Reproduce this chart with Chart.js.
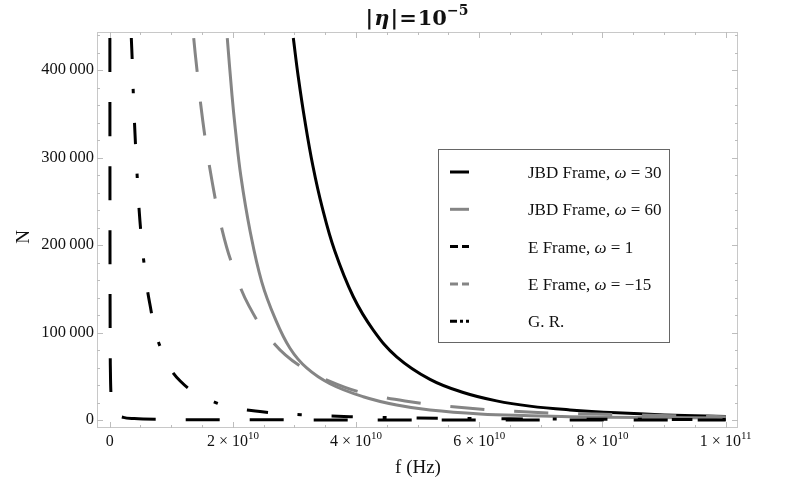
<!DOCTYPE html>
<html>
<head>
<meta charset="utf-8">
<script src="https://cdn.jsdelivr.net/npm/chart.js@4.4.0/dist/chart.umd.min.js"></script>
<style>
  html, body { margin: 0; background: #fff; }
  #wrap { width: 785px; height: 490px; }
</style>
</head>
<body>
<div id="wrap"><canvas id="chart"></canvas></div>
<script>
// frequencies are in units of 1e10 Hz, N is the cycle count

const F_JBD30 = [2.981, 3.06, 3.17, 3.30, 3.45, 3.65, 3.955, 4.279, 4.659, 5.2, 5.74, 6.28, 6.82, 7.47, 8.23, 9.0, 10.0]
const N_JBD30 = [436600, 393000, 341500, 290000, 243000, 194000, 140900, 102900, 72300, 46500, 31500, 21900, 15900, 11600, 8200, 5900, 4100]

const F_JBD60 = [1.909, 1.985, 2.039, 2.131, 2.282, 2.468, 2.683, 2.927, 3.198, 3.576, 4.117, 4.659, 5.2, 6.011, 6.823, 7.472, 8.7, 10.0]
const N_JBD60 = [436600, 371500, 333000, 278000, 215000, 158000, 116500, 82000, 59500, 41500, 26600, 17100, 11400, 6900, 4900, 3800, 2900, 2200]

const F_E1 = [0.003, 0.005, 0.008, 0.012, 0.02, 0.04, 0.1, 0.22, 0.4, 0.8, 2, 5, 10]
const N_E1 = [436600, 200000, 90000, 55000, 31000, 15000, 7000, 3100, 1700, 800, 300, 120, 60]

const F_E15 = [1.364, 1.396, 1.511, 1.669, 1.823, 1.985, 2.261, 2.683, 3.106, 3.576, 4.063, 4.794, 5.849, 6.872, 7.906, 8.945, 10.0]
const N_E15 = [436600, 414000, 342000, 270000, 218000, 178500, 130500, 86400, 61000, 44200, 32000, 21800, 13500, 8900, 6800, 5200, 3900]

const F_GR = [0.351, 0.365, 0.382, 0.411, 0.447, 0.490, 0.555, 0.649, 0.816, 1.145, 1.74, 2.44, 3.106, 3.9, 5.0, 6.5, 8.5, 10.0]
const N_GR = [436600, 412600, 376000, 326900, 277700, 228600, 180600, 133700, 84600, 44600, 19400, 9700, 6000, 3900, 2400, 1400, 800, 600]

const X_TICKS = [0, 2, 4, 6, 8, 10]
const X_TICK_LABELS = ['0', '2×10^10', '4×10^10', '6×10^10', '8×10^10', '1×10^11']
const Y_TICKS = [0, 100000, 200000, 300000, 400000]
const Y_TICK_LABELS = ['0', '100\u2009000', '200\u2009000', '300\u2009000', '400\u2009000']

const LEGEND = [
  ['JBD Frame, ', 'ω', ' = 30'],
  ['JBD Frame, ', 'ω', ' = 60'],
  ['E Frame, ', 'ω', ' = 1'],
  ['E Frame, ', 'ω', ' = \u221215'],
  ['G. R.', '', '']
]

const BLACK = '#000'
const GRAY = '#858585'
const SERIF = '"Liberation Serif", "Times New Roman", serif'

function pts(fs, ns) { return fs.map((f, i) => ({ x: f, y: ns[i] })) }

// ── Frame with inward ticks (Mathematica style) ──────────────────────────────

const frameTicks = {
  id: 'frameTicks',
  beforeDatasetsDraw(chart) {
    const { ctx, chartArea: a, scales: { x, y } } = chart
    ctx.save()
    ctx.strokeStyle = '#c8c8c8'
    ctx.lineWidth = 1
    ctx.strokeRect(a.left + 0.5, a.top + 0.5, a.width - 1, a.height - 1)
    ctx.strokeStyle = '#bdbdbd'
    ctx.beginPath()
    for (let v = 0; v <= 10.001; v += 0.5) {
      const px = Math.round(x.getPixelForValue(v)) + 0.5
      const len = X_TICKS.includes(v) ? 6 : 3
      ctx.moveTo(px, a.bottom); ctx.lineTo(px, a.bottom - len)
      ctx.moveTo(px, a.top); ctx.lineTo(px, a.top + len)
    }
    for (let v = 0; v <= 440000; v += 20000) {
      const py = Math.round(y.getPixelForValue(v)) + 0.5
      const len = Y_TICKS.includes(v) ? 6 : 3
      ctx.moveTo(a.left, py); ctx.lineTo(a.left + len, py)
      ctx.moveTo(a.right, py); ctx.lineTo(a.right - len, py)
    }
    ctx.stroke()
    ctx.restore()
  }
}

// ── Texts: title, x tick labels with exponents, axis titles, legend ──────────

function drawPieces(ctx, pieces, cx, baseline) {
  let w = 0
  for (const p of pieces) { ctx.font = p.font; w += ctx.measureText(p.t).width + (p.gap || 0) }
  let cur = cx - w / 2
  for (const p of pieces) {
    ctx.font = p.font
    ctx.fillText(p.t, cur, baseline - (p.rise || 0))
    cur += ctx.measureText(p.t).width + (p.gap || 0)
  }
}

const texts = {
  id: 'texts',
  afterDraw(chart) {
    const { ctx, scales: { x } } = chart
    ctx.save()
    ctx.fillStyle = '#111'
    ctx.textAlign = 'left'
    ctx.textBaseline = 'alphabetic'

    // title |η|=10^-5
    const tb = 'bold 21px "DejaVu Serif", serif'
    drawPieces(ctx, [
      { t: '|', font: tb, gap: 1 },
      { t: 'η', font: 'bold italic 21px "DejaVu Serif", serif', gap: 1 },
      { t: '|', font: tb, gap: 1 },
      { t: '=', font: tb, gap: 1 },
      { t: '10', font: tb },
      { t: '\u22125', font: 'bold 14px "DejaVu Serif", serif', rise: 10 }
    ], 417, 25)

    // x tick labels
    X_TICKS.forEach((v, i) => {
      const [mant, exp] = X_TICK_LABELS[i].split('^')
      const px = x.getPixelForValue(v)
      const pieces = [{ t: mant.replace('×', ' × '), font: '16px ' + SERIF }]
      if (exp) pieces.push({ t: exp, font: '11px ' + SERIF, rise: 7 })
      drawPieces(ctx, pieces, px, 446)
    })

    // axis titles
    ctx.font = '19px ' + SERIF
    ctx.textAlign = 'center'
    ctx.fillText('f (Hz)', 418, 473)
    ctx.save()
    ctx.translate(29, 237)
    ctx.rotate(-Math.PI / 2)
    ctx.fillText('N', 0, 0)
    ctx.restore()

    // legend box
    const bx = 438, by = 149, bw = 231, bh = 193
    ctx.fillStyle = '#fff'
    ctx.fillRect(bx, by, bw, bh)
    ctx.strokeStyle = '#666'
    ctx.lineWidth = 1
    ctx.strokeRect(bx + 0.5, by + 0.5, bw, bh)
    const ds = chart.data.datasets
    LEGEND.forEach((parts, i) => {
      const yy = 172 + i * 37.3
      const d = ds[i]
      ctx.strokeStyle = d.borderColor
      ctx.lineWidth = 3
      ctx.setLineDash(d.legendDash)
      ctx.beginPath()
      ctx.moveTo(450, yy); ctx.lineTo(469, yy)
      ctx.stroke()
      ctx.setLineDash([])
      ctx.fillStyle = '#111'
      ctx.textAlign = 'left'
      let cur = 528
      const fonts = ['17px ' + SERIF, 'italic 17px ' + SERIF, '17px ' + SERIF]
      parts.forEach((t, k) => {
        ctx.font = fonts[k]
        ctx.fillText(t, cur, yy + 6)
        cur += ctx.measureText(t).width
      })
    })
    ctx.restore()
  }
}

// ── Chart ────────────────────────────────────────────────────────────────────

const series = [
  { data: pts(F_JBD30, N_JBD30), color: BLACK, dash: [], legendDash: [], mono: false },
  { data: pts(F_JBD60, N_JBD60), color: GRAY, dash: [], legendDash: [], mono: false },
  { data: pts(F_E1, N_E1), color: BLACK, dash: [34, 30], legendDash: [8, 4], mono: true },
  { data: pts(F_E15, N_E15), color: GRAY, dash: [34, 30], legendDash: [8, 4], mono: false },
  { data: pts(F_GR, N_GR), color: BLACK, dash: [21, 30, 4, 30], legendDash: [7, 3, 3, 3], mono: false }
]

new Chart(document.getElementById('chart'), {
  type: 'scatter',
  data: {
    datasets: series.map((s, i) => ({
      data: s.data,
      showLine: true,
      borderColor: s.color,
      borderWidth: 3,
      borderDash: s.dash,
      legendDash: s.legendDash,
      pointRadius: 0,
      tension: 0.4,
      cubicInterpolationMode: s.mono ? 'monotone' : 'default',
      order: series.length - i
    }))
  },
  options: {
    animation: false,
    responsive: true,
    maintainAspectRatio: false,
    layout: { padding: { top: 32, right: 47, left: 0, bottom: 0 } },
    plugins: { legend: { display: false }, tooltip: { enabled: false } },
    scales: {
      x: {
        type: 'linear',
        min: -0.206,
        max: 10.2,
        afterBuildTicks: s => { s.ticks = X_TICKS.map(v => ({ value: v })) },
        ticks: { display: false },
        grid: { display: false, drawTicks: false },
        border: { display: false },
        afterFit: s => { s.height = 62 }
      },
      y: {
        type: 'linear',
        min: -9100,
        max: 443500,
        afterBuildTicks: s => { s.ticks = Y_TICKS.map(v => ({ value: v })) },
        ticks: {
          callback: (v, i) => Y_TICK_LABELS[i],
          font: { family: SERIF, size: 16.5 },
          color: '#111',
          padding: 3
        },
        grid: { display: false, drawTicks: false },
        border: { display: false },
        afterFit: s => { s.width = 97 }
      }
    }
  },
  plugins: [frameTicks, texts]
})
</script>
</body>
</html>
